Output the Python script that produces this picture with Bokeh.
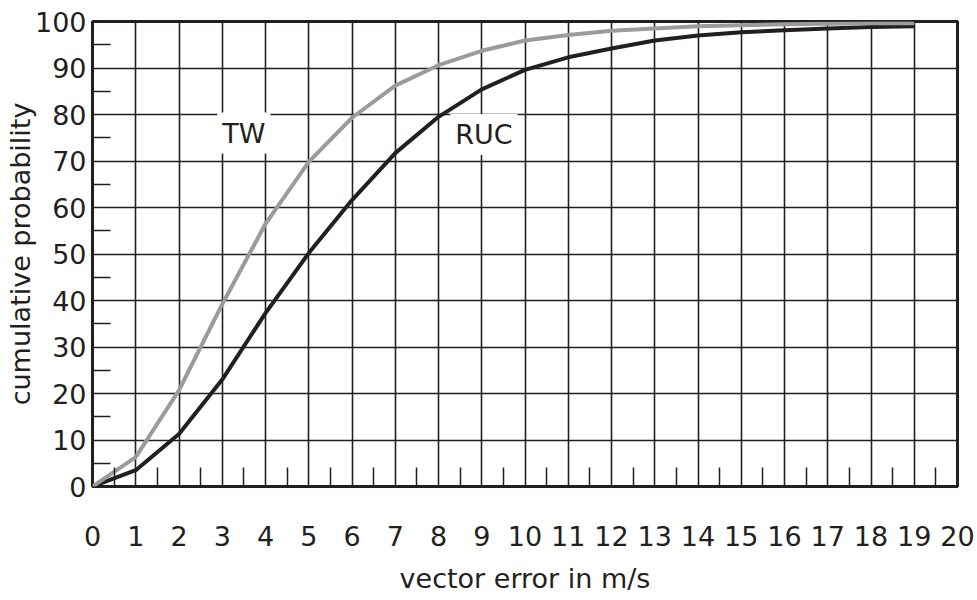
from bokeh.plotting import figure
from bokeh.models import Range1d, FixedTicker, Label
from bokeh.embed import file_html
from bokeh.resources import INLINE

# Cumulative distribution of vector error (m/s) for the two wind sources
error_ms = list(range(0, 20))
tw_cum = [0, 6.3, 20.7, 39.2, 56.5, 69.8, 79.3, 86.2, 90.6, 93.7,
          95.9, 97.1, 98.0, 98.5, 99.0, 99.2, 99.4, 99.5, 99.6, 99.6]
ruc_cum = [0, 3.5, 11.3, 23.0, 37.3, 50.2, 61.6, 71.7, 79.5, 85.4,
           89.6, 92.3, 94.2, 95.9, 97.0, 97.7, 98.1, 98.5, 98.8, 99.0]

x_ticks = list(range(0, 21))
x_minor = [i + 0.5 for i in range(0, 20)]
y_ticks = list(range(0, 101, 10))
y_minor = list(range(5, 100, 10))

series_labels = ["TW", "RUC"]
label_pos = [(3.5, 76.0), (9.05, 75.7)]

INK = "#231f20"
GREY = "#9a9b9d"
FONT = "DejaVu Sans"
FS = "27px"

p = figure(width=977, height=600, output_backend="svg", toolbar_location=None,
           x_range=Range1d(0, 20), y_range=Range1d(0, 100),
           min_border_left=92, min_border_right=20, min_border_top=21,
           min_border_bottom=114)
p.background_fill_color = "white"
p.border_fill_color = "white"
p.outline_line_color = INK
p.outline_line_width = 3

xt = FixedTicker(ticks=x_ticks, minor_ticks=x_minor)
yt = FixedTicker(ticks=y_ticks, minor_ticks=y_minor)
p.xaxis.ticker = xt
p.yaxis.ticker = yt
p.xgrid.ticker = FixedTicker(ticks=x_ticks[1:-1])
p.ygrid.ticker = FixedTicker(ticks=y_ticks[1:-1])
for g in (p.xgrid, p.ygrid):
    g.grid_line_color = INK
    g.grid_line_width = 1.6
    g.grid_line_alpha = 1.0

for ax in (p.xaxis, p.yaxis):
    ax.axis_line_color = None
    ax.major_tick_line_color = None
    ax.major_tick_in = 0
    ax.major_tick_out = 0
    ax.minor_tick_line_color = INK
    ax.minor_tick_line_width = 1.5
    ax.minor_tick_out = 0
    ax.major_label_text_font = FONT
    ax.major_label_text_font_size = FS
    ax.major_label_text_color = INK
    ax.axis_label_text_font = FONT
    ax.axis_label_text_font_size = FS
    ax.axis_label_text_font_style = "normal"
    ax.axis_label_text_color = INK

p.xaxis.minor_tick_in = 19
p.yaxis.minor_tick_in = 18
p.xaxis.major_label_standoff = 39
p.yaxis.major_label_standoff = 6
p.xaxis.axis_label = "vector error in m/s"
p.yaxis.axis_label = "cumulative probability"
p.xaxis.axis_label_standoff = 14
p.yaxis.axis_label_standoff = -4

p.line(error_ms, ruc_cum, line_color=INK, line_width=4, line_join="round")
p.line(error_ms, tw_cum, line_color=GREY, line_width=4, line_join="round")

for name, (lx, ly) in zip(series_labels, label_pos):
    p.add_layout(Label(x=lx, y=ly, text=name, text_align="center",
                       text_baseline="middle", text_font=FONT,
                       text_font_size=FS, text_color=INK,
                       background_fill_color="white", padding=5))

open("out.html", "w").write(file_html(p, INLINE))
